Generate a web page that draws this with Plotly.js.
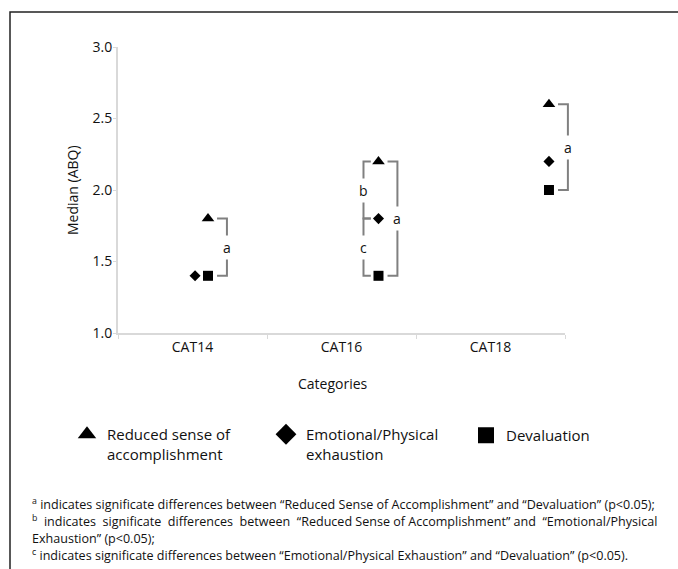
<!DOCTYPE html>
<html>
<head>
<meta charset="utf-8">
<script src="https://cdn.plot.ly/plotly-3.0.1.min.js"></script>
<style>html,body{margin:0;padding:0;background:#fff;}#chart{width:678px;height:569px;}</style>
</head>
<body>
<div id="chart"></div>
<script>
// ---- data ----
const categories = ['CAT14', 'CAT16', 'CAT18'];
const reducedSense = [1.8, 2.2, 2.6];
const emotionalExhaustion = [1.4, 1.8, 2.2];
const devaluation = [1.4, 1.4, 2.0];
const seriesNames = ['Reduced sense of<br>accomplishment', 'Emotional/Physical<br>exhaustion', 'Devaluation'];
const yTickValues = [1.0, 1.5, 2.0, 2.5, 3.0];
const yTickLabels = ['1.0', '1.5', '2.0', '2.5', '3.0'];

// significance brackets
const bracketCategory = ['CAT14', 'CAT16', 'CAT16', 'CAT16', 'CAT18'];
const bracketFrom = ['reduced', 'reduced', 'emotional', 'reduced', 'reduced'];
const bracketTo = ['devaluation', 'emotional', 'devaluation', 'devaluation', 'devaluation'];
const bracketLabel = ['a', 'b', 'c', 'a', 'a'];
const bracketSide = ['right', 'left', 'left', 'right', 'right'];

const footnotes = [
  '<sup>a</sup> indicates significate differences between \u201cReduced Sense of Accomplishment\u201d and \u201cDevaluation\u201d (p<0.05);',
  '<sup>b</sup>\u00a0 indicates\u00a0 significate\u00a0 differences\u00a0 between\u00a0 \u201cReduced Sense of Accomplishment\u201d and\u00a0 \u201cEmotional/Physical',
  'Exhaustion\u201d (p<0.05);',
  '<sup>c</sup> indicates significate differences between \u201cEmotional/Physical Exhaustion\u201d and \u201cDevaluation\u201d (p<0.05).'
];

// ---- layout geometry ----
const W = 678, H = 569;
const M = {l: 118, r: 113, t: 47, b: 236};
const PW = W - M.l - M.r, PH = H - M.t - M.b;
const px = x => (x - M.l) / PW;
const py = y => (H - M.b - y) / PH;
const FONT = 'Open Sans, Noto Sans, sans-serif';
const X2RANGE = [-0.528, 2.094];
const YRANGE = [1, 3];
const x2p = v => (v - X2RANGE[0]) / (X2RANGE[1] - X2RANGE[0]);
const y2p = v => (v - YRANGE[0]) / (YRANGE[1] - YRANGE[0]);

const series = {reduced: reducedSense, emotional: emotionalExhaustion, devaluation: devaluation};
const idx = categories.map((c, i) => i);
// diamond nudged left when it coincides with the square
const emotionalX = idx.map(i => emotionalExhaustion[i] === devaluation[i] ? i - 0.076 : i);

const traces = [
  // carrier trace so the category axis is drawn
  {x: categories, y: reducedSense, xaxis: 'x', yaxis: 'y', type: 'scatter', mode: 'markers', showlegend: false,
   marker: {opacity: 0, size: 1}, hoverinfo: 'skip'},
  {x: idx, y: reducedSense, xaxis: 'x2', type: 'scatter', mode: 'markers', showlegend: false, cliponaxis: false,
   marker: {symbol: 'triangle-up', size: 11, color: '#000'}, hoverinfo: 'y'},
  {x: emotionalX, y: emotionalExhaustion, xaxis: 'x2', type: 'scatter', mode: 'markers', showlegend: false, cliponaxis: false,
   marker: {symbol: 'diamond', size: 8.5, color: '#000'}, hoverinfo: 'y'},
  {x: idx, y: devaluation, xaxis: 'x2', type: 'scatter', mode: 'markers', showlegend: false, cliponaxis: false,
   marker: {symbol: 'square', size: 10, color: '#000'}, hoverinfo: 'y'},
  // legend entries
  {x: [null], y: [null], xaxis: 'x2', type: 'scatter', mode: 'markers', name: seriesNames[0], legend: 'legend', showlegend: true,
   marker: {symbol: 'triangle-up', size: 16, color: '#000'}},
  {x: [null], y: [null], xaxis: 'x2', type: 'scatter', mode: 'markers', name: seriesNames[1], legend: 'legend2', showlegend: true,
   marker: {symbol: 'diamond', size: 16, color: '#000'}},
  {x: [null], y: [null], xaxis: 'x2', type: 'scatter', mode: 'markers', name: seriesNames[2], legend: 'legend3', showlegend: true,
   marker: {symbol: 'square', size: 16, color: '#000'}}
];

const shapes = [];
const annotations = [];
bracketCategory.forEach((cat, k) => {
  const i = categories.indexOf(cat);
  const y1 = series[bracketFrom[k]][i], y0 = series[bracketTo[k]][i];
  let xin, xout;
  if (bracketSide[k] === 'right') { xin = i + 0.053; xout = i + 0.111; }
  else { xin = i - 0.045; xout = i - 0.088; }
  shapes.push({type: 'path', xref: 'paper', yref: 'paper',
    path: `M${x2p(xin)},${y2p(y1)} H${x2p(xout)} V${y2p(y0)} H${x2p(xin)}`,
    line: {color: '#808080', width: 2}});
  annotations.push({xref: 'paper', yref: 'paper', x: x2p(xout), y: y2p((y0 + y1) / 2), text: bracketLabel[k],
    showarrow: false, bgcolor: '#fff', borderpad: 2, xanchor: 'center', yanchor: 'middle',
    font: {family: FONT, size: 14, color: '#111'}});
});

// outer frame (left and top edges)
shapes.push({type: 'path', xref: 'paper', yref: 'paper',
  path: `M${px(10)},${py(580)} V${py(12)} H${px(690)}`,
  line: {color: '#222', width: 1.5}});

annotations.push({xref: 'paper', yref: 'paper', x: px(72), y: py(190), text: 'Median (ABQ)', textangle: -90,
  showarrow: false, xanchor: 'center', yanchor: 'middle', font: {family: FONT, size: 14, color: '#111'}});
annotations.push({xref: 'paper', yref: 'paper', x: px(333), y: py(383), text: 'Categories',
  showarrow: false, xanchor: 'center', yanchor: 'middle', font: {family: FONT, size: 14, color: '#111'}});
const footY = [504, 521, 538, 555];
footnotes.forEach((t, k) => {
  annotations.push({xref: 'paper', yref: 'paper', x: px(30), y: py(footY[k]), text: t,
    showarrow: false, xanchor: 'left', yanchor: 'middle', align: 'left',
    font: {family: FONT, size: 12.55, color: '#111'}});
});

const legendBase = {orientation: 'v', xanchor: 'left', yanchor: 'top', valign: 'top',
  bgcolor: 'rgba(0,0,0,0)', font: {family: FONT, size: 15, color: '#111'}, itemclick: false, itemdoubleclick: false};

const layout = {
  width: W, height: H,
  margin: M,
  paper_bgcolor: '#fff', plot_bgcolor: '#fff',
  font: {family: FONT, color: '#111'},
  xaxis: {type: 'category', categoryarray: categories, categoryorder: 'array', range: [-0.5, 2.5], tickson: 'boundaries',
    showline: true, linecolor: '#d9d9d9', linewidth: 2, ticks: 'outside', ticklen: 4, tickcolor: '#d9d9d9',
    showgrid: false, zeroline: false, tickfont: {family: FONT, size: 14, color: '#111'}, fixedrange: true},
  xaxis2: {overlaying: 'x', range: X2RANGE, visible: false, fixedrange: true},
  yaxis: {range: YRANGE, tickvals: yTickValues, ticktext: yTickLabels, showline: true, linecolor: '#d9d9d9',
    linewidth: 2, ticks: 'outside', ticklen: 3, tickcolor: '#d9d9d9', showgrid: false, zeroline: false,
    ticklabelstandoff: -2,
    tickfont: {family: FONT, size: 14, color: '#111'}, fixedrange: true},
  legend: Object.assign({}, legendBase, {x: px(67), y: py(418)}),
  legend2: Object.assign({}, legendBase, {x: px(266), y: py(418)}),
  legend3: Object.assign({}, legendBase, {x: px(466), y: py(419)}),
  shapes: shapes,
  annotations: annotations
};

Plotly.newPlot('chart', traces, layout, {displayModeBar: false, staticPlot: true});
</script>
</body>
</html>
